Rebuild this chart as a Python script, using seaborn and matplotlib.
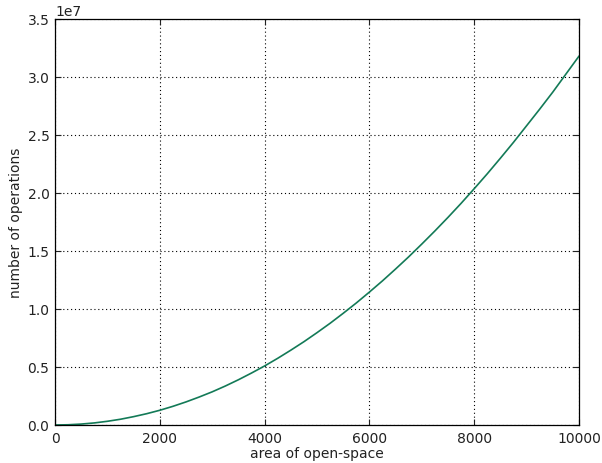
import matplotlib
matplotlib.use("Agg")
import matplotlib.pyplot as plt
import seaborn as sns
import pandas as pd

area = [0, 250, 500, 750, 1000, 1250, 1500, 1750, 2000, 2250, 2500, 2750,
        3000, 3250, 3500, 3750, 4000, 4250, 4500, 4750, 5000, 5250, 5500,
        5750, 6000, 6250, 6500, 6750, 7000, 7250, 7500, 7750, 8000, 8250,
        8500, 8750, 9000, 9250, 9500, 9750, 10000]
operations = [0, 2.0e4, 8.0e4, 1.79e5, 3.2e5, 4.97e5, 7.2e5, 9.75e5, 1.27e6,
              1.61e6, 1.99e6, 2.41e6, 2.86e6, 3.36e6, 3.90e6, 4.48e6, 5.09e6,
              5.75e6, 6.45e6, 7.18e6, 7.96e6, 8.77e6, 9.63e6, 1.052e7,
              1.146e7, 1.243e7, 1.345e7, 1.450e7, 1.56e7, 1.673e7, 1.79e7,
              1.911e7, 2.037e7, 2.166e7, 2.30e7, 2.437e7, 2.58e7, 2.723e7,
              2.87e7, 3.025e7, 3.18e7]

x_ticks = [0, 2000, 4000, 6000, 8000, 10000]
y_ticks = [0, 0.5e7, 1.0e7, 1.5e7, 2.0e7, 2.5e7, 3.0e7, 3.5e7]

df = pd.DataFrame({"area": area, "operations": operations})

sns.set_style("white")
plt.rcParams["font.family"] = ["DejaVu Sans"]
fs = 10

fig = plt.figure(figsize=(6.02, 4.64), dpi=100)
ax = fig.add_axes([0.0914, 0.0819, 0.8704, 0.875])

sns.lineplot(data=df, x="area", y="operations", ax=ax, color="#137a57",
             linewidth=1.2)

ax.set_xlim(0, 10000)
ax.set_ylim(0, 3.5e7)
ax.set_xticks(x_ticks)
ax.set_yticks(y_ticks)
ax.grid(True, color="black", linestyle=(0, (1, 2.5)), linewidth=0.8)
ax.tick_params(direction="in", length=4, width=0.8, colors="#222222",
               labelsize=fs, top=True, right=True, bottom=True, left=True,
               pad=4)
for s in ax.spines.values():
    s.set_visible(True)
    s.set_color("black")
    s.set_linewidth(0.9)

ax.ticklabel_format(axis="y", style="sci", scilimits=(0, 0))
ax.yaxis.get_offset_text().set_fontsize(fs)
ax.set_xlabel("area of open-space", fontsize=fs, labelpad=1, color="#222222")
ax.set_ylabel("number of operations", fontsize=fs, labelpad=3, color="#222222")

fig.savefig("out.png", dpi=100)
